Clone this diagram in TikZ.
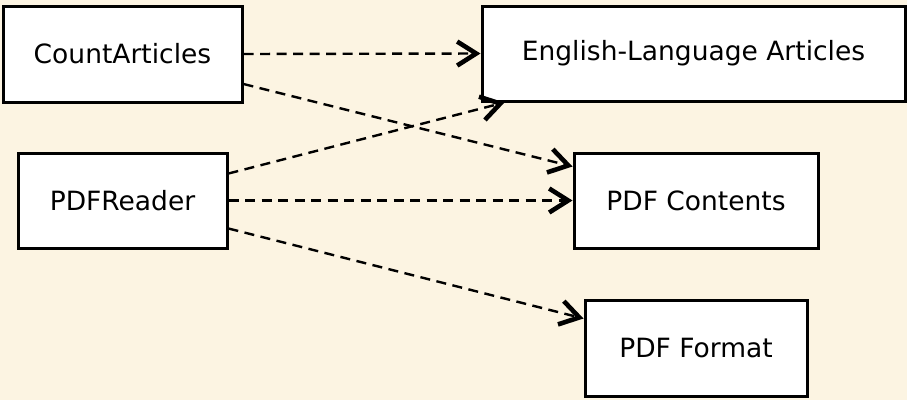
\documentclass[tikz,border=0pt]{standalone}
\usepackage{fontspec}
\setmainfont{DejaVu Sans}
\usetikzlibrary{arrows.meta}
\definecolor{paper}{HTML}{FCF4E2}
\tikzset{
	box/.style={draw, line width=3pt, fill=white, inner sep=0pt,
		font=\fontsize{26.5}{30}\selectfont},
	uses/.style={dashed, line width=2.4pt, dash pattern=on 10pt off 6.5pt,
		-{Straight Barb[length=19pt,width=24pt,line width=4.6pt]}}
}
\begin{document}
\begin{tikzpicture}[x=1pt, y=-1pt]
		\fill[paper] (0,0) rectangle (907,400);
		\useasboundingbox (0,0) rectangle (907,400);
		
		% left column
		\node (count) [box, minimum width=239pt, minimum height=96pt] at (122.5,54) {CountArticles};
		\node (reader) [box, minimum width=209pt, minimum height=95pt] at (122.5,200.5) {PDFReader};
		
		% right column
		\node (english) [box, minimum width=423pt, minimum height=95pt] at (693.5,53.5) {English-Language Articles};
		\node (contents) [box, minimum width=244pt, minimum height=95pt] at (696,200.5) {PDF Contents};
		\node (format) [box, minimum width=222pt, minimum height=96pt] at (696,348) {PDF Format};
		
		\draw[uses] (count.east) -- (english.west);
		\draw[uses] ([yshift=-30pt]count.east) -- ([yshift=-15pt]contents.north west);
		\draw[uses] ([yshift=27pt]reader.east) -- ([xshift=24pt]english.south west);
		\draw[uses] (reader.east) -- (contents.west);
		\draw[uses] ([yshift=-28pt]reader.east) -- ([yshift=-20pt]format.north west);
		
		\end{tikzpicture}
\end{document}
